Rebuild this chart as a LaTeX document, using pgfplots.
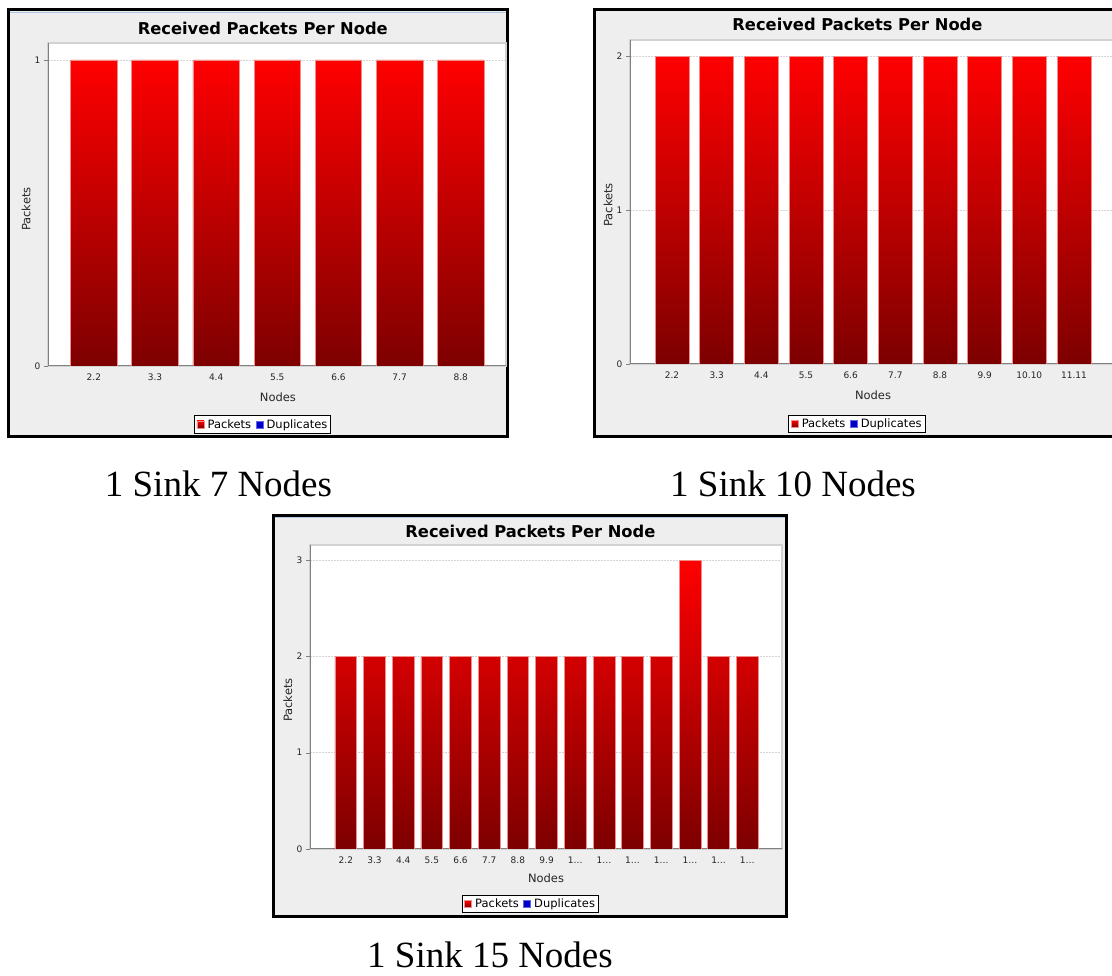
\documentclass[border=0pt]{standalone}
\usepackage{fontspec}
\setmainfont{DejaVu Sans}
\newfontfamily\capfont{Liberation Serif}
\usepackage{pgfplots}
\pgfplotsset{compat=1.18}

\definecolor{panelbg}{RGB}{238,238,238}
\definecolor{barTop}{RGB}{255,0,0}
\definecolor{barBot}{RGB}{125,0,0}
\definecolor{barEdge}{RGB}{240,140,140}
\definecolor{axisgray}{RGB}{128,128,128}
\definecolor{gridgray}{RGB}{212,212,212}
\definecolor{dupblue}{RGB}{0,0,205}
\definecolor{chrome}{RGB}{175,198,230}

% JFreeChart-like look
\pgfplotsset{
  jfree/.style={
    scale only axis,
    anchor=south west,
    axis lines=left,
    axis line style={-, axisgray, line width=1pt},
    axis background/.style={fill=white, draw=gray!35, line width=1.5pt},
    ymin=0,
    tick align=outside,
    major tick length=4pt,
    ytick style={axisgray},
    xtick style={draw=none},
    ymajorgrids,
    major grid style={gridgray, dash pattern=on 1.5pt off 1.5pt, line width=0.6pt},
    /pgf/number format/assume math mode=true,
    ticklabel style={font=\fontsize{9}{10}\selectfont, text=black!85},
    title={Received Packets Per Node},
    title style={anchor=center, font=\bfseries\fontsize{16.3}{19}\selectfont},
    xlabel={Nodes},
    ylabel={Packets},
    label style={font=\fontsize{11.5}{13}\selectfont, text=black!85},
    xlabel style={anchor=center},
    ylabel style={anchor=center},
    legend columns=2,
    legend style={anchor=center, draw=black, fill=white, line width=0.8pt,
      font=\fontsize{11.5}{13}\selectfont, inner sep=2pt,
      nodes={inner sep=1.5pt},
      /tikz/every odd column/.append style={column sep=2pt},
      /tikz/every even column/.append style={column sep=3pt}},
    legend image code/.code={\draw[##1, line width=0.4pt] (0pt,-3.5pt) rectangle (7pt,3.5pt);},
    bars/.style={ybar, bar width=0.76, draw=barEdge, line width=0.6pt,
      top color=barTop, bottom color=barBot},
  }
}

\begin{document}
\begin{tikzpicture}
\clip (0pt,0pt) rectangle (1112pt,976pt);
\fill[white] (0pt,0pt) rectangle (1112pt,976pt);

% panel frames
\draw[line width=3pt, fill=panelbg] (8.5pt,966.5pt) rectangle (507.5pt,539.5pt);
\draw[chrome, line width=1pt] (10pt,963.5pt) -- (506pt,963.5pt);
\draw[line width=3pt, fill=panelbg] (594.5pt,966.5pt) rectangle (1130pt,539.5pt);
\draw[line width=3pt, fill=panelbg] (273.5pt,460.5pt) rectangle (786.5pt,59.5pt);
\draw[chrome, line width=1pt] (275pt,458pt) -- (785pt,458pt);

% captions
\tikzset{caption/.style={anchor=base, inner sep=0pt, font=\capfont\fontsize{37}{42}\selectfont}}
\node[caption] at (218.5pt,479pt) {1 Sink 7 Nodes};
\node[caption] at (793pt,479pt) {1 Sink 10 Nodes};
\node[caption] at (490pt,8.5pt) {1 Sink 15 Nodes};

% 1 sink, 7 nodes
\begin{axis}[jfree,
  at={(48pt,610pt)},
  width=458pt, height=323pt,
  xmin=-0.75, xmax=6.74, ymax=1.055,
  ytick={0,1},
  xtick={0,...,6},
  xticklabels={2.2,3.3,4.4,5.5,6.6,7.7,8.8},
  title style={at={(axis description cs:0.469,1.028)}},
  xlabel style={at={(axis description cs:0.502,-0.096)}},
  ylabel style={at={(axis description cs:-0.048,0.486)}},
  legend style={at={(axis description cs:0.469,-0.181)}},
]
\addplot[bars] coordinates {(0,1) (1,1) (2,1) (3,1) (4,1) (5,1) (6,1)};
\addlegendentry{Packets}
\addlegendimage{draw=dupblue!60, fill=dupblue}
\addlegendentry{Duplicates}
\end{axis}

% 1 sink, 10 nodes
\begin{axis}[jfree,
  at={(630pt,612pt)},
  width=486pt, height=324pt,
  xmin=-0.94, xmax=9.94, ymax=2.105,
  ytick={0,1,2},
  xtick={0,...,9},
  xticklabels={2.2,3.3,4.4,5.5,6.6,7.7,8.8,9.9,10.10,11.11},
  title style={at={(axis description cs:0.468,1.031)}},
  xlabel style={at={(axis description cs:0.5,-0.096)}},
  ylabel style={at={(axis description cs:-0.045,0.491)}},
  legend style={at={(axis description cs:0.467,-0.184)}},
]
\addplot[bars] coordinates {(0,2) (1,2) (2,2) (3,2) (4,2) (5,2) (6,2) (7,2) (8,2) (9,2)};
\addlegendentry{Packets}
\addlegendimage{draw=dupblue!60, fill=dupblue}
\addlegendentry{Duplicates}
\end{axis}

% 1 sink, 15 nodes
\begin{axis}[jfree,
  at={(310pt,127pt)},
  width=472pt, height=304pt,
  xmin=-1.25, xmax=15.21, ymax=3.156,
  ytick={0,1,2,3},
  xtick={0,...,14},
  xticklabels={2.2,3.3,4.4,5.5,6.6,7.7,8.8,9.9,1…,1…,1…,1…,1…,1…,1…},
  title style={at={(axis description cs:0.467,1.026)}},
  xlabel style={at={(axis description cs:0.5,-0.095)}},
  ylabel style={at={(axis description cs:-0.047,0.49)}},
  legend style={at={(axis description cs:0.467,-0.181)}},
]
\addplot[bars] coordinates {(0,2) (1,2) (2,2) (3,2) (4,2) (5,2) (6,2) (7,2)
  (8,2) (9,2) (10,2) (11,2) (12,3) (13,2) (14,2)};
\addlegendentry{Packets}
\addlegendimage{draw=dupblue!60, fill=dupblue}
\addlegendentry{Duplicates}
\end{axis}
\end{tikzpicture}
\end{document}
